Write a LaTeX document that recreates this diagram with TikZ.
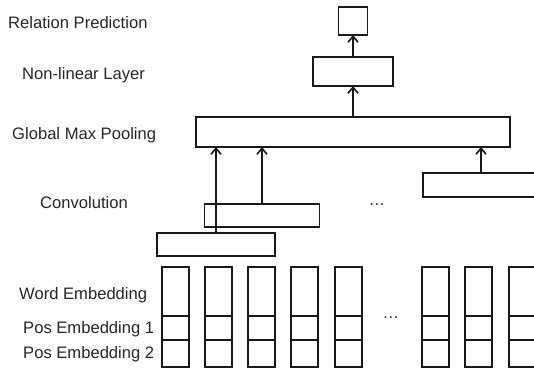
\documentclass[tikz,border=0pt]{standalone}
\usepackage{fontspec}
\setmainfont{Liberation Sans}
\usetikzlibrary{arrows.meta}
\begin{document}
\begin{tikzpicture}[x=1pt,y=-1pt,
  box/.style={draw=black!90,line width=1.6pt,inner sep=0pt,outer sep=0pt,rectangle},
  arr/.style={draw=black!90,line width=1.6pt,-{Straight Barb[length=6pt,width=10pt,line width=1.6pt]}},
  lbl/.style={anchor=base west,inner sep=0pt,text=black!85,font=\fontsize{16.6}{19}\selectfont},
  dotsl/.style={anchor=base,inner sep=0pt,text=black!85,font=\fontsize{16.6}{19}\selectfont}]
\useasboundingbox (0,0) rectangle (534,376);
\clip (0,0) rectangle (534,376);
% labels
\node[lbl] (lrel) at (8,28) {Relation Prediction};
\node[lbl] (lnon) at (22,79) {Non-linear Layer};
\node[lbl] (lpool) at (12,139) {Global Max Pooling};
\node[lbl] (lconv) at (40,208) {Convolution};
\node[lbl] (lword) at (19,299) {Word Embedding};
\node[lbl] (lpos1) at (23,333) {Pos Embedding 1};
\node[lbl] (lpos2) at (23,358) {Pos Embedding 2};
% upper boxes
\node[box,minimum width=29pt,minimum height=28pt] (pred) at (353,21) {};
\node[box,minimum width=80pt,minimum height=29pt] (non) at (353,71.5) {};
\node[box,minimum width=314pt,minimum height=30pt] (pool) at (353,132) {};
% convolution boxes
\node[box,minimum width=115pt,minimum height=23pt] (convB) at (262,215.5) {};
\node[box,minimum width=118pt,minimum height=23pt] (convA) at (216,244.5) {};
\node[box,minimum width=140pt,minimum height=24pt] (convC) at (493,185) {};
\coordinate (convCtop) at ([xshift=-12pt]convC.north);
\node[dotsl] (cdots) at (377,205) {\dots};
% arrows
\draw[arr] (non.north) -- (pred.south);
\draw[arr] (pool.north) -- (non.south);
\draw[arr] (convA.north) -- (pool.south -| convA.north);
\draw[arr] (convB.north) -- (pool.south -| convB.north);
\draw[arr] (convCtop) -- (pool.south -| convCtop);
% embedding columns
\foreach \i/\xl in {1/162,2/205,3/248,4/291,5/335,6/422,7/465,8/509}{
  \node[box,minimum width=27pt,minimum height=49pt] (w\i) at (\xl+13.5,291.5) {};
  \node[box,minimum width=27pt,minimum height=24pt,anchor=north] (p\i) at (w\i.south) {};
  \node[box,minimum width=27pt,minimum height=27pt,anchor=north] (q\i) at (p\i.south) {};
}
\node[dotsl] (edots) at (391,318) {\dots};
\end{tikzpicture}
\end{document}
